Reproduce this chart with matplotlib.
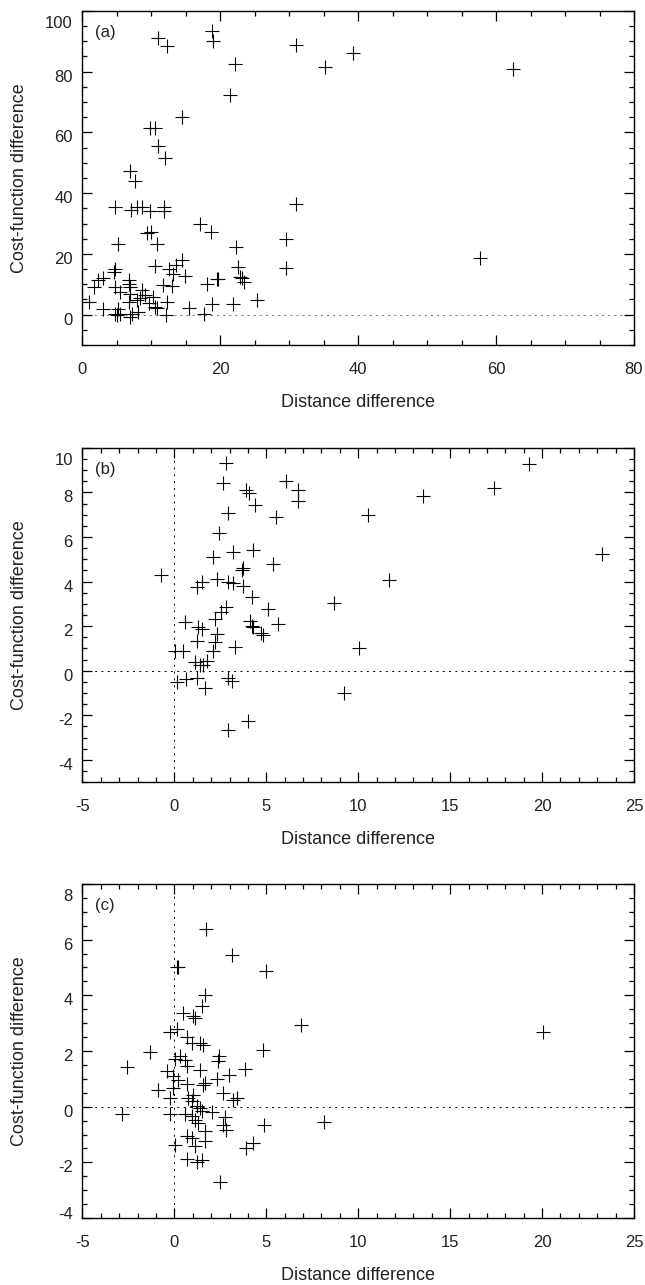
import numpy as np
import matplotlib
matplotlib.use('Agg')
import matplotlib.pyplot as plt
from matplotlib.ticker import MultipleLocator
from matplotlib.transforms import ScaledTranslation

# panel (a)
dist_a = [10.9, 12.2, 18.8, 18.9, 30.9, 39.2, 35.2, 62.4, 22.1, 21.4, 14.5, 9.8, 10.5, 10.9, 11.9,
          6.9, 7.6, 4.7, 7.0, 7.9, 8.7, 9.8, 11.8, 11.8, 5.2, 9.4, 9.9, 10.8, 17.1, 18.6, 22.3,
          30.9, 29.5, 29.5, 57.6, 10.5, 14.4, 13.5, 12.5, 13.2, 14.9, 11.7, 13.0, 22.5, 22.9,
          23.4, 19.7, 19.5, 18.0, 25.3, 21.9, 18.8, 17.6, 15.4, 12.3, 12.1, 10.5, 10.8, 10.3,
          9.1, 8.4, 8.6, 7.9, 8.1, 6.9, 7.2, 6.7, 6.9, 6.9, 6.7, 6.7, 5.5, 4.7, 4.5, 4.7, 3.0,
          2.3, 1.6, 0.9, 3.0, 4.7, 5.2, 5.5, 5.0, 23.1, 9.6]
cost_a = [91.1, 88.3, 93.3, 90.0, 88.9, 86.1, 81.7, 80.9, 82.5, 72.4, 65.0, 61.6, 61.6, 55.6, 51.5,
          47.4, 44.0, 35.3, 34.4, 35.5, 35.3, 34.2, 35.5, 34.2, 23.4, 27.0, 27.3, 23.2, 30.0, 27.3, 22.3,
          36.4, 24.8, 15.5, 18.5, 16.1, 17.9, 16.5, 14.9, 13.5, 12.7, 9.9, 9.4, 15.7, 12.4,
          10.8, 11.9, 11.6, 10.0, 4.7, 3.4, 3.6, 0.3, 2.3, 4.2, -0.2, 2.5, 2.3, 5.8,
          6.4, 5.5, 8.0, 4.7, 0.9, -0.8, 0.3, 4.2, 6.9, 9.1, 10.2, 11.3, 7.5, 9.1, 14.1, 14.9, 12.1,
          11.3, 9.1, 4.2, 1.7, 0.3, 2.0, 0.3, -0.2, 12.0, 4.0]

# panel (b)
dist_b = [2.83, 2.65, 3.92, 4.06, 4.37, 6.08, 6.71, 6.71, 2.92, 5.54, 2.44, 3.19, 2.11, 4.28, 5.36,
          3.74, -0.72, 2.29, 1.48, 1.21, 2.92, 3.19, 3.74, 4.24, 2.83, 2.56, 2.20, 5.09, 0.58, 1.30,
          1.48, 4.10, 4.28, 5.63, 4.73, 2.29, 1.21, 2.20, 3.29, 0.04, 0.49, 2.11, 1.12, 1.39, 1.75,
          0.13, 0.63, 1.21, 1.66, 2.92, 3.16, 2.92, 4.01, 8.70, 9.24, 10.04, 10.55, 13.51, 17.38,
          19.29, 23.27, 11.67, 4.82, 1.57, 4.20, 3.70]
cost_b = [9.31, 8.41, 8.11, 7.99, 7.43, 8.53, 8.11, 7.61, 7.09, 6.91, 6.16, 5.33, 5.11, 5.44, 4.80,
          4.61, 4.28, 4.13, 3.98, 3.75, 3.98, 3.93, 3.78, 3.30, 2.85, 2.63, 2.33, 2.78, 2.18, 1.95,
          1.88, 2.25, 1.98, 2.10, 1.68, 1.65, 1.35, 1.28, 1.08, 0.87, 0.87, 0.90, 0.38, 0.27, 0.45,
          -0.53, -0.38, -0.33, -0.78, -0.33, -0.48, -2.67, -2.28, 3.03, -1.02, 1.02, 6.98, 7.85, 8.21,
          9.28, 5.26, 4.08, 1.60, 0.25, 2.00, 4.50]

# panel (c)
dist_c = [1.70, 3.14, 5.00, 0.13, 0.22, 1.66, 1.48, 0.45, 1.03, 1.12, 0.13, -0.23, 0.67, 0.94, 1.39,
          1.57, -1.32, -2.58, 0.31, 0.58, 0.04, 0.67, 1.39, 2.44, 2.38, 2.98, 3.83, 4.82, 6.90, -0.42,
          -0.05, 0.22, 0.67, 1.57, 1.66, 2.29, -0.87, -0.05, -0.23, 0.76, 1.03, 0.94, 1.21, 2.65,
          3.19, 3.38, -2.85, -0.23, 0.58, 1.39, 1.48, 2.02, 0.94, 1.12, 1.30, 2.74, 2.65, 2.83, 4.86,
          1.66, 0.67, 0.94, 1.66, 0.04, 1.12, 4.28, 3.92, 0.67, 1.48, 1.21, 2.47, 8.16, 20.07]
cost_c = [6.38, 5.44, 4.86, 5.02, 5.02, 4.00, 3.63, 3.37, 3.25, 3.19, 2.79, 2.67, 2.50, 2.29, 2.29,
          2.23, 1.95, 1.41, 1.81, 1.69, 1.71, 1.47, 1.33, 1.81, 1.63, 1.15, 1.35, 2.02, 2.95, 1.27,
          1.09, 0.95, 0.83, 0.79, 0.85, 0.99, 0.59, 0.67, 0.31, 0.31, 0.43, 0.19, 0.04, 0.49,
          0.25, 0.31, -0.25, -0.25, -0.25, -0.05, -0.17, -0.20, -0.35, -0.47, -0.59, -0.38, -0.65, -0.83, -0.65,
          -0.89, -1.07, -1.13, -1.25, -1.37, -1.43, -1.31, -1.49, -1.88, -1.90, -2.00, -2.71, -0.56, 2.67]

plt.rcParams['font.family'] = ['Liberation Sans', 'DejaVu Sans']
plt.rcParams['axes.unicode_minus'] = False
txt = '#222222'

fig = plt.figure(figsize=(6.45, 12.85), dpi=100)

panels = [
    (0.7315, dist_a, cost_a, (0, 80), (-10, 100), 20, 5, np.arange(0, 101, 20), 5, '(a)', False),
    (0.3914, dist_b, cost_b, (-5, 25), (-5, 10), 5, 1, np.arange(-4, 11, 2), 0.5, '(b)', True),
    (0.0521, dist_c, cost_c, (-5, 25), (-4, 8), 5, 1, np.arange(-4, 9, 2), 0.5, '(c)', True),
]

def shift(lab, dy):
    lab.set_transform(lab.get_transform() + ScaledTranslation(0, dy / 100.0, fig.dpi_scale_trans))

for bottom, xs, ys, xl, yl, xmaj, xmin, yt, ymin, tag, vline in panels:
    ax = fig.add_axes([0.1279, bottom, 0.855, 0.26])
    if vline:
        ax.axhline(0, color='k', lw=0.7, ls=(0, (2, 4.5)), zorder=1)
        ax.axvline(0, color='k', lw=0.7, ls=(0, (2, 5)), zorder=1)
    else:
        ax.axhline(0, color='#888888', lw=0.8, ls=(0, (2, 3.5)), zorder=1)
    ax.plot(xs, ys, '+', color='k', ms=10, mew=0.8, ls='none', zorder=3)
    ax.set_xlim(*xl)
    ax.set_ylim(*yl)
    ax.xaxis.set_major_locator(MultipleLocator(xmaj))
    ax.xaxis.set_minor_locator(MultipleLocator(xmin))
    ax.set_yticks(yt)
    ax.yaxis.set_minor_locator(MultipleLocator(ymin))
    ax.tick_params(which='both', direction='in', top=True, right=True, width=0.9, colors='k',
                   labelcolor=txt, labelsize=12)
    ax.tick_params(which='major', length=7)
    ax.tick_params(which='minor', length=3.5)
    ax.tick_params(axis='x', pad=12)
    ax.tick_params(axis='y', pad=7)
    for s in ax.spines.values():
        s.set_linewidth(1.0)
    ax.set_xlabel('Distance difference', fontsize=13, color=txt)
    ax.set_ylabel('Cost-function difference', fontsize=13, color=txt)
    ax.xaxis.set_label_coords(0.5, -0.172)
    ax.xaxis.label.set_va('center')
    ax.yaxis.set_label_coords(-0.114, 0.5)
    ax.yaxis.label.set_va('center')
    ax.text(0.023, 0.935, tag, transform=ax.transAxes, fontsize=12, color=txt, va='center', ha='left')

    locs = ax.yaxis.get_majorticklocs()
    ticks = ax.yaxis.get_major_ticks(len(locs))
    for loc, t in zip(locs, ticks):
        if np.isclose(loc, yl[1]):
            shift(t.label1, -11)
        elif np.isclose(loc, yl[0]):
            shift(t.label1, 5)
        else:
            shift(t.label1, -4)

fig.savefig('out.png', dpi=100)
